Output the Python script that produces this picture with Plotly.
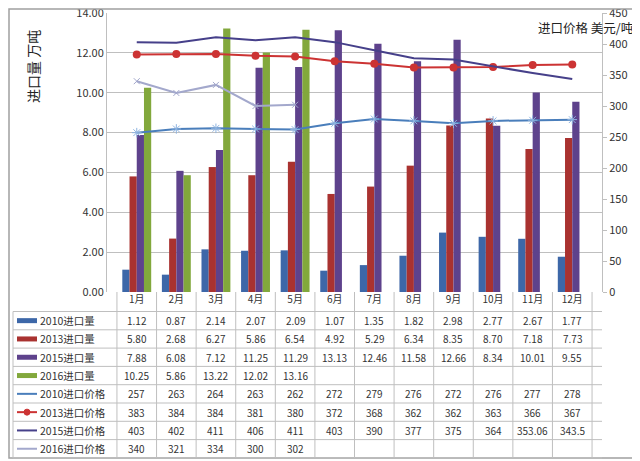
import plotly.graph_objects as go

months = ["1月", "2月", "3月", "4月", "5月", "6月", "7月", "8月", "9月", "10月", "11月", "12月"]
vol_2010 = [1.12, 0.87, 2.14, 2.07, 2.09, 1.07, 1.35, 1.82, 2.98, 2.77, 2.67, 1.77]
vol_2013 = [5.80, 2.68, 6.27, 5.86, 6.54, 4.92, 5.29, 6.34, 8.35, 8.70, 7.18, 7.73]
vol_2015 = [7.88, 6.08, 7.12, 11.25, 11.29, 13.13, 12.46, 11.58, 12.66, 8.34, 10.01, 9.55]
vol_2016 = [10.25, 5.86, 13.22, 12.02, 13.16, None, None, None, None, None, None, None]
price_2010 = [257, 263, 264, 263, 262, 272, 279, 276, 272, 276, 277, 278]
price_2013 = [383, 384, 384, 381, 380, 372, 368, 362, 362, 363, 366, 367]
price_2015 = [403, 402, 411, 406, 411, 403, 390, 377, 375, 364, 353.06, 343.5]
price_2016 = [340, 321, 334, 300, 302, None, None, None, None, None, None, None]

row_names = ["2010进口量", "2013进口量", "2015进口量", "2016进口量",
             "2010进口价格", "2013进口价格", "2015进口价格", "2016进口价格"]

C_BLUE = "#3D67A8"
C_RED = "#A93230"
C_PURPLE = "#5E428C"
C_GREEN = "#82A83C"
C_P2010 = "#4A7EBB"
C_P2013 = "#CC3333"
C_P2015 = "#46408A"
C_P2016 = "#A3A8CC"
FONT = "Noto Sans CJK SC"

# page offset of the figure (body margin)
OFF = 8
W, H = 640 - OFF, 461 - OFF
# plot area in page pixels
PL, PR, PT, PB = 107, 602, 13, 292
L, R, T, B = PL - OFF, PR - OFF, PT - OFF, PB - OFF


def px(xp):
    return (xp - PL) / (PR - PL)


def py(yp):
    return (PB - yp) / (PB - PT)


fig = go.Figure()
bar_specs = [(vol_2010, C_BLUE, row_names[0]), (vol_2013, C_RED, row_names[1]),
             (vol_2015, C_PURPLE, row_names[2]), (vol_2016, C_GREEN, row_names[3])]
for vals, col, nm in bar_specs:
    fig.add_trace(go.Bar(x=months, y=vals, name=nm, marker=dict(color=col, line=dict(width=0))))

fig.add_trace(go.Scatter(x=months, y=price_2010, yaxis="y2", mode="lines+markers", name=row_names[4],
                         line=dict(color=C_P2010, width=2),
                         marker=dict(symbol="asterisk-open", size=8, color="#8FB4E0", line=dict(width=1, color="#8FB4E0"))))
fig.add_trace(go.Scatter(x=months, y=price_2013, yaxis="y2", mode="lines+markers", name=row_names[5],
                         line=dict(color=C_P2013, width=2),
                         marker=dict(symbol="circle", size=8, color=C_P2013)))
fig.add_trace(go.Scatter(x=months, y=price_2015, yaxis="y2", mode="lines", name=row_names[6],
                         line=dict(color=C_P2015, width=2)))
fig.add_trace(go.Scatter(x=months, y=price_2016, yaxis="y2", mode="lines+markers", name=row_names[7],
                         line=dict(color=C_P2016, width=2),
                         marker=dict(symbol="x-thin-open", size=6, color=C_P2016, line=dict(width=1, color=C_P2016))))

shapes = []
annotations = []
grid = "#BFBFBF"

# outer border (left/top edges clipped to the figure)
shapes.append(dict(type="rect", xref="paper", yref="paper", x0=px(OFF + 1), x1=px(637), y0=py(458), y1=py(OFF + 1),
                   line=dict(color="#A0A0A0", width=1.5)))

row_top = 311.5
row_h = 18.3
n_rows = len(row_names)
table_bottom = row_top + row_h * n_rows

for k in range(n_rows + 1):
    yy = row_top + k * row_h
    shapes.append(dict(type="line", xref="paper", yref="paper", x0=px(13), x1=px(602), y0=py(yy), y1=py(yy),
                       line=dict(color=grid, width=1)))
for i in range(len(months) + 1):
    shapes.append(dict(type="line", xref="x", yref="paper", x0=i - 0.5, x1=i - 0.5, y0=py(292), y1=py(table_bottom),
                       line=dict(color=grid, width=1)))
shapes.append(dict(type="line", xref="paper", yref="paper", x0=px(13), x1=px(13), y0=py(row_top), y1=py(table_bottom),
                   line=dict(color=grid, width=1)))

rows = [vol_2010, vol_2013, vol_2015, vol_2016, price_2010, price_2013, price_2015, price_2016]
fmts = ["{:.2f}"] * 4 + ["{:g}"] * 4
for r, (vals, fm) in enumerate(zip(rows, fmts)):
    yc = row_top + (r + 0.5) * row_h
    for i, v in enumerate(vals):
        if v is None:
            continue
        annotations.append(dict(x=i, xref="x", y=py(yc), yref="paper", text=fm.format(v), showarrow=False,
                                xanchor="center", yanchor="middle",
                                font=dict(family=FONT, size=10, color="#333333")))
    annotations.append(dict(x=px(38), xref="paper", y=py(yc), yref="paper", text=row_names[r], showarrow=False,
                            xanchor="left", yanchor="middle", font=dict(family=FONT, size=10.5, color="#333333")))

key_cols = [C_BLUE, C_RED, C_PURPLE, C_GREEN]
for r in range(4):
    yc = row_top + (r + 0.5) * row_h
    shapes.append(dict(type="line", xref="paper", yref="paper", x0=px(17), x1=px(37), y0=py(yc), y1=py(yc),
                       line=dict(color=key_cols[r], width=5)))
line_cols = [C_P2010, C_P2013, C_P2015, C_P2016]
for r in range(4):
    yc = row_top + (r + 4.5) * row_h
    shapes.append(dict(type="line", xref="paper", yref="paper", x0=px(17), x1=px(37), y0=py(yc), y1=py(yc),
                       line=dict(color=line_cols[r], width=2)))
    if r == 1:
        shapes.append(dict(type="circle", xref="paper", yref="paper", x0=px(24), x1=px(30), y0=py(yc + 3), y1=py(yc - 3),
                           fillcolor=C_P2013, line=dict(color=C_P2013, width=1)))

annotations.append(dict(x=px(33), xref="paper", y=py(67), yref="paper", text="进口量 万吨", textangle=-90,
                        xanchor="center", yanchor="middle",
                        showarrow=False, font=dict(family=FONT, size=14, color="#222222")))
annotations.append(dict(x=px(636), xref="paper", y=py(27), yref="paper", text="进口价格 美元/吨", xanchor="right",
                        yanchor="middle", showarrow=False, font=dict(family=FONT, size=12.5, color="#222222")))

fig.update_layout(
    width=W, height=H,
    margin=dict(l=L, r=W - R, t=T, b=H - B, autoexpand=False),
    paper_bgcolor="white", plot_bgcolor="white",
    barmode="group", bargap=0.27, bargroupgap=0,
    showlegend=False,
    font=dict(family=FONT, size=11, color="#333333"),
    xaxis=dict(type="category", showgrid=False, showline=False, ticks="", automargin=False,
               tickfont=dict(family=FONT, size=10, color="#333333")),
    yaxis=dict(range=[0, 14], dtick=2, tickformat=".2f", showgrid=True, gridcolor=grid, gridwidth=1,
               showline=True, linecolor=grid, zeroline=False, ticks="", automargin=False,
               ticklabeloverflow="allow",
               tickfont=dict(family=FONT, size=11, color="#333333")),
    yaxis2=dict(range=[0, 450], dtick=50, overlaying="y", side="right", showgrid=False, automargin=False,
                showline=True, linecolor=grid, ticks="outside", ticklen=4, tickcolor=grid, zeroline=False,
                ticklabeloverflow="allow",
                tickfont=dict(family=FONT, size=11, color="#333333")),
    shapes=shapes, annotations=annotations,
)

fig.write_html("out.html")
